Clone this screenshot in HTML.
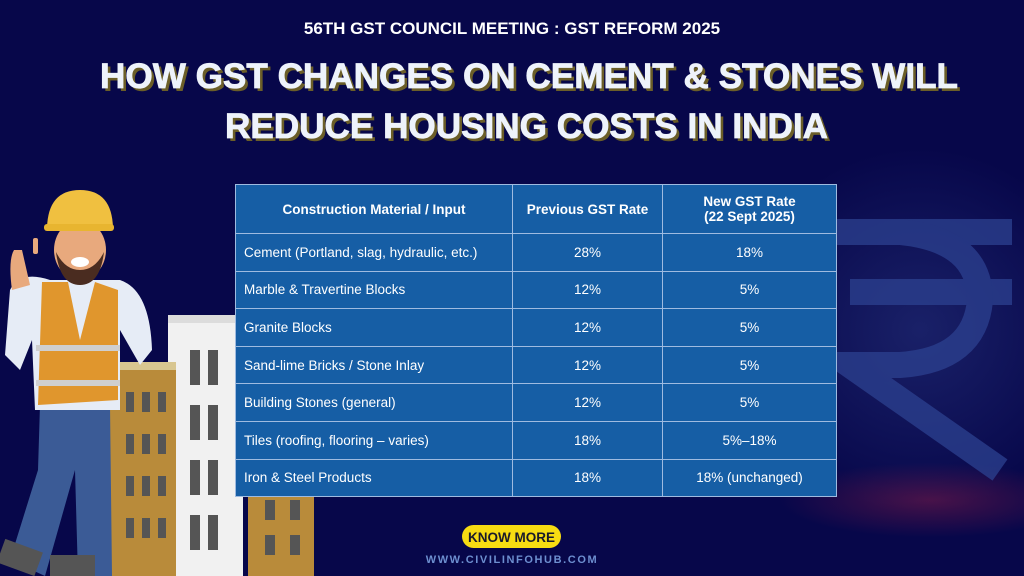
<!DOCTYPE html>
<html><head><meta charset="utf-8"><style>
html,body{margin:0;padding:0}
body{width:1024px;height:576px;overflow:hidden;position:relative;background:#07074a;font-family:"Liberation Sans",sans-serif}
.bg{position:absolute;inset:0;background:radial-gradient(ellipse 200px 50px at 930px 500px,rgba(150,30,70,.45),transparent 75%),radial-gradient(ellipse 260px 260px at 920px 330px,rgba(60,80,160,.35),transparent 70%)}
table{position:absolute;left:235px;top:184px;width:602px;border-collapse:collapse;background:#165ea5;color:#fff;font-size:13.5px}
td,th{border:1px solid #9fbbe0;padding:0 8px;height:36.6px}
th{height:48px;font-size:13.5px;font-weight:bold}
td.c{text-align:center}
</style></head><body>
<div class="bg"></div>
<svg width="1024" height="576" style="position:absolute;left:0;top:0">
<g fill="none" stroke="#2c4190" stroke-width="26" opacity=".75">
<path d="M830 232 L1012 232"/>
<path d="M850 292 L1012 292"/>
<path d="M850 232 L900 232 Q980 240 980 300 Q975 360 900 365 L850 365 L1000 470"/>
</g>
<text x="512" y="34" text-anchor="middle" font-size="17" font-weight="bold" fill="#fff">56TH GST COUNCIL MEETING : GST REFORM 2025</text>
<g font-size="35" font-weight="bold">
<text x="103" y="91" textLength="858" lengthAdjust="spacingAndGlyphs" fill="#6b5e28">HOW GST CHANGES ON CEMENT &amp; STONES WILL</text>
<text x="100" y="88" textLength="858" lengthAdjust="spacingAndGlyphs" fill="#eef3fb" stroke="#eef3fb" stroke-width=".8">HOW GST CHANGES ON CEMENT &amp; STONES WILL</text>
<text x="228" y="141" textLength="603" lengthAdjust="spacingAndGlyphs" fill="#6b5e28">REDUCE HOUSING COSTS IN INDIA</text>
<text x="225" y="138" textLength="603" lengthAdjust="spacingAndGlyphs" fill="#eef3fb" stroke="#eef3fb" stroke-width=".8">REDUCE HOUSING COSTS IN INDIA</text>
</g>
<rect x="168" y="315" width="75" height="261" fill="#f1f1f1"/>
<rect x="168" y="315" width="75" height="8" fill="#dcdcdc"/>
<g fill="#555">
<rect x="190" y="350" width="10" height="35"/><rect x="208" y="350" width="10" height="35"/>
<rect x="190" y="405" width="10" height="35"/><rect x="208" y="405" width="10" height="35"/>
<rect x="190" y="460" width="10" height="35"/><rect x="208" y="460" width="10" height="35"/>
<rect x="190" y="515" width="10" height="35"/><rect x="208" y="515" width="10" height="35"/>
</g>
<rect x="248" y="495" width="66" height="81" fill="#b98b3a"/>
<rect x="265" y="500" width="10" height="20" fill="#555"/><rect x="290" y="500" width="10" height="20" fill="#555"/>
<rect x="265" y="535" width="10" height="20" fill="#555"/><rect x="290" y="535" width="10" height="20" fill="#555"/>
<rect x="108" y="362" width="68" height="214" fill="#b98b3a"/>
<rect x="108" y="362" width="68" height="8" fill="#d8c690"/>
<g fill="#555">
<rect x="126" y="392" width="8" height="20"/><rect x="142" y="392" width="8" height="20"/><rect x="158" y="392" width="8" height="20"/>
<rect x="126" y="434" width="8" height="20"/><rect x="142" y="434" width="8" height="20"/><rect x="158" y="434" width="8" height="20"/>
<rect x="126" y="476" width="8" height="20"/><rect x="142" y="476" width="8" height="20"/><rect x="158" y="476" width="8" height="20"/>
<rect x="126" y="518" width="8" height="20"/><rect x="142" y="518" width="8" height="20"/><rect x="158" y="518" width="8" height="20"/>
</g>
<path d="M40 405 L110 405 L112 576 L78 576 L75 470 L45 576 L10 560 L38 470Z" fill="#3b5b96"/>
<rect x="0" y="545" width="40" height="25" fill="#555" transform="rotate(20 20 557)"/>
<rect x="50" y="555" width="45" height="21" fill="#555"/>
<path d="M10 290 Q20 270 50 280 L120 280 Q150 290 152 350 L140 365 L120 330 L120 410 L35 410 L32 340 L20 370 L5 355Z" fill="#e6ecf6"/>
<path d="M42 282 L68 282 L80 340 L95 282 L118 290 L118 400 L38 405Z" fill="#e0962d"/>
<rect x="36" y="345" width="84" height="6" fill="#cfcfcf"/><rect x="36" y="380" width="84" height="6" fill="#cfcfcf"/>
<path d="M12 290 Q8 260 14 250 L22 250 L30 285Z" fill="#e8a97d"/>
<rect x="33" y="238" width="5" height="16" rx="2" fill="#e8a97d"/>
<ellipse cx="80" cy="250" rx="26" ry="30" fill="#e8a97d"/>
<path d="M56 252 Q60 285 80 285 Q100 285 104 252 Q95 270 80 270 Q65 270 56 252Z" fill="#4a2c20"/>
<ellipse cx="80" cy="262" rx="9" ry="5" fill="#fff"/>
<path d="M47 228 Q48 190 80 190 Q112 190 113 228Z" fill="#f0c040"/>
<rect x="44" y="224" width="70" height="7" rx="3" fill="#e8b530"/>
<rect x="462" y="525" width="99" height="23" rx="11.5" fill="#f7dc12"/>
<text x="511.5" y="542" text-anchor="middle" font-size="13.5" font-weight="bold" fill="#1a1a2a">KNOW MORE</text>
<text x="512" y="563" text-anchor="middle" font-size="11" font-weight="bold" letter-spacing="1.6" fill="#6d8fd0">WWW.CIVILINFOHUB.COM</text>
</svg>
<table>
<tr><th style="width:260px">Construction Material / Input</th><th style="width:133px">Previous GST Rate</th><th>New GST Rate<br>(22 Sept 2025)</th></tr>
<tr><td>Cement (Portland, slag, hydraulic, etc.)</td><td class="c">28%</td><td class="c">18%</td></tr>
<tr><td>Marble &amp; Travertine Blocks</td><td class="c">12%</td><td class="c">5%</td></tr>
<tr><td>Granite Blocks</td><td class="c">12%</td><td class="c">5%</td></tr>
<tr><td>Sand-lime Bricks / Stone Inlay</td><td class="c">12%</td><td class="c">5%</td></tr>
<tr><td>Building Stones (general)</td><td class="c">12%</td><td class="c">5%</td></tr>
<tr><td>Tiles (roofing, flooring – varies)</td><td class="c">18%</td><td class="c">5%–18%</td></tr>
<tr><td>Iron &amp; Steel Products</td><td class="c">18%</td><td class="c">18% (unchanged)</td></tr>
</table>
</body></html>
